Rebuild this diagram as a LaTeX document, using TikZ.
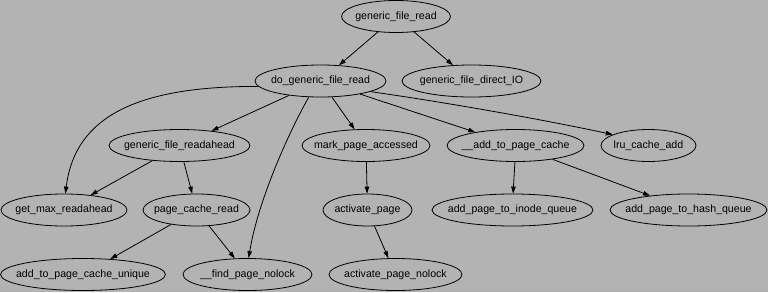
\documentclass[tikz,border=0pt]{standalone}
\usepackage{fontspec}
\setmainfont{Liberation Sans}
\usetikzlibrary{shapes.geometric,arrows.meta}
\definecolor{bg}{HTML}{B3B3B3}
\newcommand{\fnlabel}[1]{\makebox[0pt][c]{#1}}
\tikzset{
  fn/.style={ellipse, draw=black, line width=0.8pt, fill=bg, inner sep=0pt,
    minimum height=32pt, font=\fontsize{10.6}{12}\selectfont, text=black},
  call/.style={draw=black, line width=0.8pt, -{Triangle[length=7pt,width=4.5pt]}}
}
\begin{document}
\begin{tikzpicture}[x=1pt,y=-1pt]
\fill[bg] (0,0) rectangle (768,292);
\useasboundingbox (0,0) rectangle (768,292);
% row 1
\node[fn, minimum width=109pt] (gfr) at (396,16.5) {\fnlabel{generic\_file\_read}};
% row 2
\node[fn, minimum width=131pt] (dgfr) at (320.5,81) {\fnlabel{do\_generic\_file\_read}};
\node[fn, minimum width=139pt] (gfdio) at (471.5,81) {\fnlabel{generic\_file\_direct\_IO}};
% row 3
\node[fn, minimum width=141pt] (gfra) at (179.5,145.5) {\fnlabel{generic\_file\_readahead}};
\node[fn, minimum width=128pt] (mpa) at (366,145.5) {\fnlabel{mark\_page\_accessed}};
\node[fn, minimum width=137pt] (apc) at (515.5,145.5) {\fnlabel{\_\_add\_to\_page\_cache}};
\node[fn, minimum width=95pt] (lru) at (648.5,145.5) {\fnlabel{lru\_cache\_add}};
% row 4
\node[fn, minimum width=126pt] (gmr) at (64,210) {\fnlabel{get\_max\_readahead}};
\node[fn, minimum width=107pt] (pcr) at (196.5,210) {\fnlabel{page\_cache\_read}};
\node[fn, minimum width=89pt] (ap) at (367.5,210) {\fnlabel{activate\_page}};
\node[fn, minimum width=161pt] (apiq) at (512.5,210) {\fnlabel{add\_page\_to\_inode\_queue}};
\node[fn, minimum width=157pt] (aphq) at (688.5,210) {\fnlabel{add\_page\_to\_hash\_queue}};
% row 5
\node[fn, minimum width=165pt] (atpcu) at (83,274.5) {\fnlabel{add\_to\_page\_cache\_unique}};
\node[fn, minimum width=129pt] (fpn) at (247.5,274.5) {\fnlabel{\_\_find\_page\_nolock}};
\node[fn, minimum width=133pt] (apn) at (395.5,274.5) {\fnlabel{activate\_page\_nolock}};
% edges
\draw[call] (gfr) -- (dgfr);
\draw[call] (gfr) -- (gfdio);
\draw[call] (dgfr.185) .. controls (140,86) and (75,115) .. (gmr.85);
\draw[call] (dgfr) -- (gfra);
\draw[call] (dgfr.234) .. controls (290,130) and (258,200) .. (fpn.86);
\draw[call] (dgfr) -- (mpa);
\draw[call] (dgfr) -- (apc);
\draw[call] (dgfr.-12) .. controls (450,103) and (545,120) .. (lru.163);
\draw[call] (gfra) -- (gmr);
\draw[call] (gfra) -- (pcr);
\draw[call] (pcr) -- (atpcu);
\draw[call] (pcr) -- (fpn);
\draw[call] (mpa) -- (ap);
\draw[call] (ap) -- (apn);
\draw[call] (apc.-92) -- (apiq.88);
\draw[call] (apc) -- (aphq);
\end{tikzpicture}
\end{document}
